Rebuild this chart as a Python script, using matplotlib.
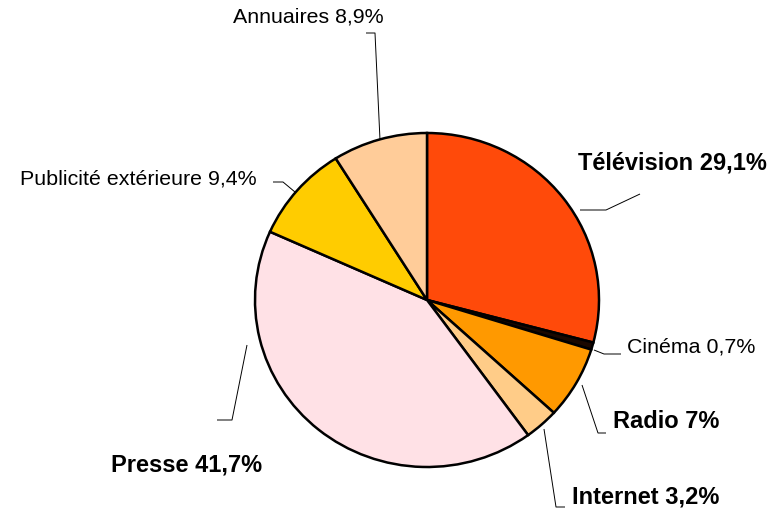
import matplotlib
matplotlib.use("Agg")
import matplotlib.pyplot as plt

categories = ["Télévision", "Cinéma", "Radio", "Internet", "Presse",
              "Publicité extérieure", "Annuaires"]
values = [29.1, 0.7, 7.0, 3.2, 41.7, 9.4, 8.9]
value_labels = ["29,1%", "0,7%", "7%", "3,2%", "41,7%", "9,4%", "8,9%"]
bold = [True, False, True, True, True, False, False]
colors = ["#FF4A0A", "#1A0800", "#FF9900", "#FFCC88", "#FFE1E6",
          "#FFCC00", "#FFCC99"]

W, H = 783, 515
RX, RY = 172, 167
SY = RX / RY

def Y(py):
    return (H - py) * SY

fig = plt.figure(figsize=(W / 100, H / 100), dpi=100)
ax = fig.add_axes([0, 0, 1, 1])
ax.pie(values, colors=colors, startangle=90, counterclock=False,
       center=(427, Y(300)), radius=RX,
       wedgeprops=dict(edgecolor="black", linewidth=1.8))
ax.set_aspect("auto")
ax.set_xlim(0, W)
ax.set_ylim(0, H * SY)
ax.axis("off")

# leader lines (pixel coordinates) and label anchors
leaders = [
    [(580, 210), (606, 210), (640, 194)],
    [(594, 350), (604, 354), (621, 354)],
    [(582, 385), (598, 433), (606, 433)],
    [(544, 429), (556, 507), (565, 507)],
    [(247, 345), (232, 420), (217, 420)],
    [(295, 192), (283, 182), (273, 182)],
    [(380, 140), (375, 33), (366, 33)],
]
label_pos = [
    (672, 163, "center"),
    (627, 347, "left"),
    (613, 422, "left"),
    (572, 497, "left"),
    (187, 465, "center"),
    (257, 179, "right"),
    (308, 17, "center"),
]

for cat, vl, b, pts, (lx, ly, ha) in zip(categories, value_labels, bold,
                                          leaders, label_pos):
    xs = [p[0] for p in pts]
    ys = [Y(p[1]) for p in pts]
    ax.plot(xs, ys, color="black", linewidth=0.7, solid_capstyle="butt")
    ax.text(lx, Y(ly), f"{cat} {vl}", ha=ha, va="center",
            fontsize=17 if b else 15.4,
            fontweight="bold" if b else "normal",
            family=["Liberation Sans", "DejaVu Sans"], color="black")

fig.savefig("out.png", dpi=100)
